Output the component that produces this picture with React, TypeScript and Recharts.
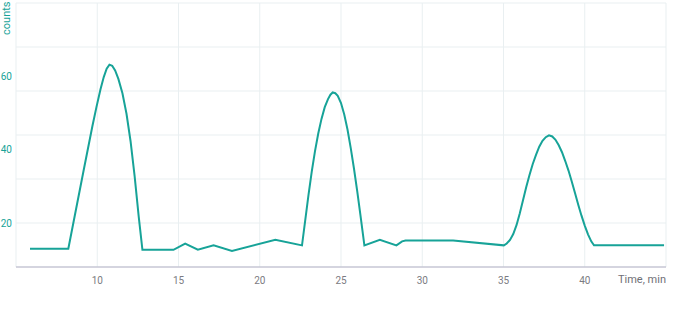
import React from 'react'
import { LineChart, Line, XAxis, YAxis, CartesianGrid } from 'recharts'

const TEAL = '#17a398'
const GRID = '#e9eff1'
const AXIS = '#b5b2c6'
const FONT = 'Roboto, "Noto Sans", sans-serif'

// retention time (min) and detector counts
const times = [
  5.86, 8.22, 8.7, 9.2, 9.7, 9.95, 10.2, 10.4, 10.58, 10.75, 10.92, 11.1, 11.3, 11.55, 11.8, 12.05, 12.3, 12.55, 12.78,
  14.69, 15.41, 16.19, 17.16, 18.29, 20.96, 22.6,
  22.8, 23.0, 23.2, 23.4, 23.6, 23.8, 24.0, 24.2, 24.35, 24.49, 24.65, 24.8, 25.0, 25.2, 25.4, 25.6, 25.8, 26.0, 26.2, 26.44,
  27.39, 28.41, 28.76, 28.97, 31.9,
  35.02, 35.2, 35.4, 35.6, 35.8, 36.0, 36.2, 36.4, 36.6, 36.8, 37.0, 37.2, 37.4, 37.6, 37.8, 38.0, 38.2, 38.4, 38.6, 38.8,
  39.0, 39.2, 39.4, 39.6, 39.8, 40.0, 40.2, 40.4, 40.57, 44.88,
]
const counts = [
  13.0, 13.0, 23.9, 35.2, 46.4, 51.6, 56.5, 59.8, 62.1, 63.2, 62.9, 61.6, 59.3, 55.4, 49.8, 42.3, 32.8, 21.8, 12.7,
  12.7, 14.4, 12.7, 13.9, 12.4, 15.4, 13.9,
  20.8, 27.7, 34.0, 39.6, 44.4, 48.4, 51.6, 53.8, 55.0, 55.6, 55.4, 54.7, 52.7, 49.6, 45.5, 40.4, 34.8, 28.6, 22.0, 13.9,
  15.4, 13.9, 15.0, 15.2, 15.2,
  13.9, 14.4, 15.4, 17.0, 19.4, 22.6, 26.2, 29.8, 33.1, 36.1, 38.6, 40.8, 42.4, 43.4, 43.9, 43.6, 42.7, 41.2, 39.3, 36.9,
  34.3, 31.3, 28.2, 25.0, 22.0, 19.3, 16.9, 15.0, 13.9, 13.9,
]

const xTicks = [10, 15, 20, 25, 30, 35, 40]
const xGrid = [5, 10, 15, 20, 25, 30, 35, 40, 45]
const yTicks = [20, 40, 60]
const yGrid = [8, 20, 32, 44, 56, 68, 80]

const data = times.map((t, i) => ({ t, v: counts[i] }))

export default function App() {
  return (
    <div style={{ position: 'absolute', left: 0, top: 0, fontFamily: FONT }}>
      <LineChart width={680} height={312} data={data} margin={{ top: 3, right: 14, bottom: 0, left: 0 }}>
        <CartesianGrid stroke={GRID} strokeWidth={1} verticalValues={xGrid} horizontalValues={yGrid} />
        <XAxis
          dataKey="t"
          type="number"
          domain={[5, 45]}
          ticks={xTicks}
          allowDataOverflow
          height={45}
          stroke={AXIS}
          tickLine={false}
          tickSize={6}
          tickMargin={4}
          tick={{ fontSize: 10, fill: '#7b7b82', fontFamily: FONT }}
          label={{
            content: ({ viewBox }: any) => (
              <text x={viewBox.x + viewBox.width} y={viewBox.y + 15.5} textAnchor="end" fontSize={11} fill="#6f6f76" fontFamily={FONT}>
                Time, min
              </text>
            ),
          }}
        />
        <YAxis
          type="number"
          domain={[8, 80]}
          ticks={yTicks}
          allowDataOverflow
          width={16}
          axisLine={false}
          tickLine={false}
          tickSize={2}
          tickMargin={2}
          tick={{ fontSize: 10, fill: TEAL, fontFamily: FONT }}
          label={{
            content: () => (
              <text x={9.5} y={1.5} transform="rotate(-90, 9.5, 1.5)" textAnchor="end" fontSize={11} fill={TEAL} fontFamily={FONT}>
                counts
              </text>
            ),
          }}
        />
        <Line type="linear" dataKey="v" stroke={TEAL} strokeWidth={2} dot={false} isAnimationActive={false} />
      </LineChart>
    </div>
  )
}
